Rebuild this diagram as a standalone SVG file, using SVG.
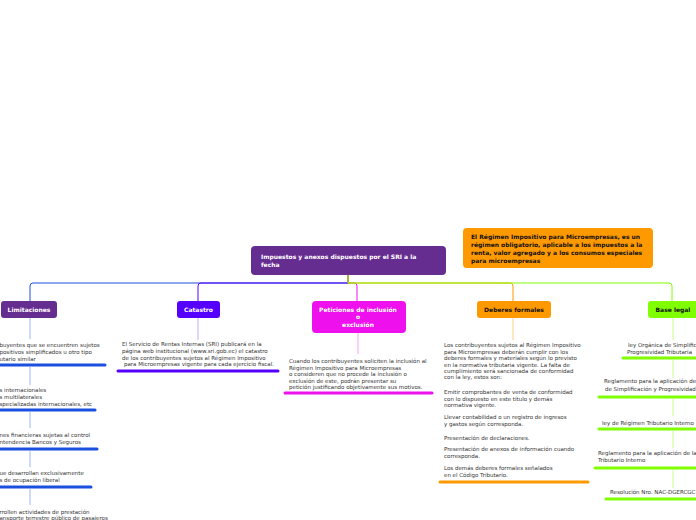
<svg xmlns="http://www.w3.org/2000/svg" width="696" height="520" viewBox="0 0 696 520">
<style>
.nt{font-family:"DejaVu Sans",Verdana,sans-serif;font-weight:bold;font-size:6px}
.w{fill:#fff}
.k{fill:#111}
.bt{font-family:"DejaVu Sans",Verdana,sans-serif;font-size:5.5px;fill:#333}
.c{fill:none;stroke-width:1}
.st{fill:none;stroke-width:1}
.ul{fill:none;stroke-width:3;stroke-linecap:round}
</style>
<rect width="696" height="520" fill="#fff"/>
<g id="connectors">
<path class="c" stroke="#1a4fe0" d="M348 275V283H33Q30 283 30 286V301"/>
<path class="c" stroke="#5500ff" d="M348 275V283H201Q198 283 198 286V301"/>
<path class="c" stroke="#ee11ee" d="M348 275V283H354Q357 283 357 286V301"/>
<path class="c" stroke="#ff9900" d="M348 275V283H510Q513 283 513 286V301"/>
<path class="c" stroke="#80ff00" d="M348 275V283H669Q672 283 672 286V301"/>
<g stroke="#9db8f2" class="st"><path d="M30 318V339M30 367V385M30 412V428M30 451V467M30 489V505"/></g>
<path class="st" stroke="#c8a8ff" d="M198 318V340"/>
<path class="st" stroke="#ffa0ff" d="M358 333V354"/>
<path class="st" stroke="#ffd08a" d="M513 318V340"/>
<g stroke="#c4ff8a" class="st"><path d="M673 318V340M673 360V378M673 399V416M673 431V448M673 470V488"/></g>
</g>
<g id="root">
<rect x="251" y="246" width="195" height="29" rx="4" fill="#662d91"/>
<text class="nt w" x="261" y="259">Impuestos y anexos dispuestos por el SRI a la</text>
<text class="nt w" x="261" y="267">fecha</text>
</g>
<g id="note">
<rect x="463" y="228" width="190" height="40" rx="4" fill="#ff9900"/>
<text class="nt k" x="471" y="239">El Régimen Impositivo para Microempresas, es un</text>
<text class="nt k" x="471" y="247">régimen obligatorio, aplicable a los impuestos a la</text>
<text class="nt k" x="471" y="255">renta, valor agregado y a los consumos especiales</text>
<text class="nt k" x="471" y="263">para microempresas</text>
</g>
<g id="limitaciones">
<rect x="1" y="301" width="56" height="17" rx="3" fill="#662d91"/>
<text class="nt w" x="29" y="311.5" text-anchor="middle">Limitaciones</text>
</g>
<g id="lim-1">
<text class="bt" x="-0.5" y="347">buyentes que se encuentren sujetos</text>
<text class="bt" x="-0.5" y="354">positivos simplificados u otro tipo</text>
<text class="bt" x="-0.5" y="360.5">utario similar</text>
<path class="ul" stroke="#1a4fe0" d="M-3 365H105"/>
</g>
<g id="lim-2">
<text class="bt" x="-0.5" y="392">s internacionales</text>
<text class="bt" x="-0.5" y="399">s multilaterales</text>
<text class="bt" x="-0.5" y="405.5">specializadas internacionales, etc</text>
<path class="ul" stroke="#1a4fe0" d="M-3 410H95"/>
</g>
<g id="lim-3">
<text class="bt" x="-0.5" y="437">nes financieras sujetas al control</text>
<text class="bt" x="-0.5" y="444">ntendencia Bancos y Seguros</text>
<path class="ul" stroke="#1a4fe0" d="M-3 449H97"/>
</g>
<g id="lim-4">
<text class="bt" x="-0.5" y="475">ue desarrollan exclusivamente</text>
<text class="bt" x="-0.5" y="482">s de ocupación liberal</text>
<path class="ul" stroke="#1a4fe0" d="M-3 487H91"/>
</g>
<g id="lim-5">
<text class="bt" x="-0.5" y="514">rrollen actividades de prestación</text>
<text class="bt" x="-0.5" y="520">ansporte terrestre público de pasajeros</text>
</g>
<g id="catastro">
<rect x="177" y="301" width="43" height="17" rx="3" fill="#5500ff"/>
<text class="nt w" x="198.5" y="311.5" text-anchor="middle">Catastro</text>
</g>
<g id="cat-1">
<text class="bt" x="122" y="346">El Servicio de Rentas Internas (SRI) publicará en la</text>
<text class="bt" x="122" y="353">página web institucional (www.sri.gob.ec) el catastro</text>
<text class="bt" x="122" y="359.5">de los contribuyentes sujetos al Régimen Impositivo</text>
<text class="bt" x="124" y="366">para Microempresas vigente para cada ejercicio fiscal.</text>
<path class="ul" stroke="#5500ff" d="M118 371H278"/>
</g>
<g id="peticiones">
<rect x="312" y="301" width="94" height="32" rx="4" fill="#ee11ee"/>
<text class="nt w" x="358" y="312" text-anchor="middle">Peticiones de inclusión</text>
<text class="nt w" x="358" y="319" text-anchor="middle">o</text>
<text class="nt w" x="358" y="326.5" text-anchor="middle">exclusión</text>
</g>
<g id="pet-1">
<text class="bt" x="289" y="363">Cuando los contribuyentes soliciten la inclusión al</text>
<text class="bt" x="289" y="369.5">Régimen Impositivo para Microempresas</text>
<text class="bt" x="289" y="376">o consideren que no procede la inclusión o</text>
<text class="bt" x="289" y="382.5">exclusión de este, podrán presentar su</text>
<text class="bt" x="289" y="389">petición justificando objetivamente sus motivos.</text>
<path class="ul" stroke="#ee11ee" d="M285 393H432"/>
</g>
<g id="deberes">
<rect x="477" y="301" width="74" height="17" rx="3" fill="#ff9900"/>
<text class="nt k" x="514" y="311.5" text-anchor="middle">Deberes formales</text>
</g>
<g id="deb-1">
<text class="bt" x="444" y="347">Los contribuyentes sujetos al Régimen Impositivo</text>
<text class="bt" x="444" y="353.5">para Microempresas deberán cumplir con los</text>
<text class="bt" x="444" y="360">deberes formales y materiales según lo previsto</text>
<text class="bt" x="444" y="366.5">en la normativa tributaria vigente. La falta de</text>
<text class="bt" x="444" y="373">cumplimiento será sancionada de conformidad</text>
<text class="bt" x="444" y="379">con la ley, estos son:</text>
<text class="bt" x="444" y="394">Emitir comprobantes de venta de conformidad</text>
<text class="bt" x="444" y="400.5">con lo dispuesto en este título y demás</text>
<text class="bt" x="444" y="407">normativa vigente.</text>
<text class="bt" x="444" y="419">Llevar contabilidad o un registro de ingresos</text>
<text class="bt" x="444" y="425.5">y gastos según corresponda.</text>
<text class="bt" x="444" y="440">Presentación de declaraciones.</text>
<text class="bt" x="444" y="451">Presentación de anexos de información cuando</text>
<text class="bt" x="444" y="457.5">corresponda.</text>
<text class="bt" x="444" y="470">Los demás deberes formales señalados</text>
<text class="bt" x="444" y="476.5">en el Código Tributario.</text>
<path class="ul" stroke="#ff9900" d="M440 482H588"/>
</g>
<g id="base-legal">
<rect x="648" y="301" width="52" height="17" rx="3" fill="#80ff00"/>
<text class="nt k" x="673" y="311.5" text-anchor="middle">Base legal</text>
</g>
<g id="bl-1">
<text class="bt" x="628" y="347">ley Orgánica de Simplific</text>
<text class="bt" x="627" y="354">Progresividad Tributaria</text>
<path class="ul" stroke="#80ff00" d="M623 358H700"/>
</g>
<g id="bl-2">
<text class="bt" x="604" y="383">Reglamento para la aplicación de</text>
<text class="bt" x="605" y="391">de Simplificación y Progresividad</text>
<path class="ul" stroke="#80ff00" d="M599 397H700"/>
</g>
<g id="bl-3">
<text class="bt" x="602" y="425">ley de Régimen Tributario Interno</text>
<path class="ul" stroke="#80ff00" d="M599 429H700"/>
</g>
<g id="bl-4">
<text class="bt" x="598" y="455">Reglamento para la aplicación de la</text>
<text class="bt" x="598" y="462">Tributario Interno</text>
<path class="ul" stroke="#80ff00" d="M595 468H700"/>
</g>
<g id="bl-5">
<text class="bt" x="610" y="494">Resolución Nro. NAC-DGERCGC</text>
<path class="ul" stroke="#80ff00" d="M606 499H700"/>
</g>
</svg>
